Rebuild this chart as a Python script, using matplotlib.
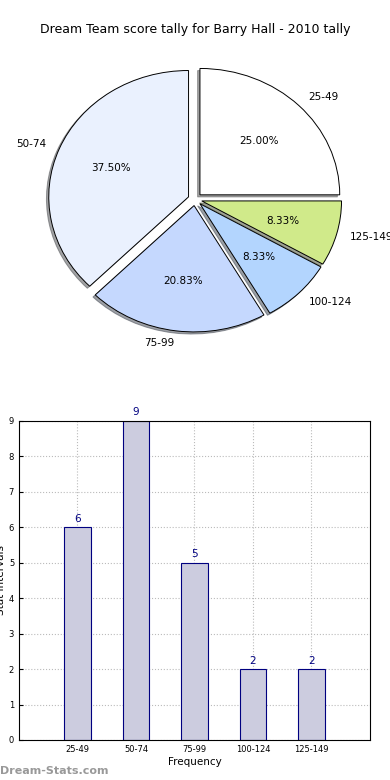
import numpy as np
import matplotlib.pyplot as plt

# score ranges and how many games fell into each
categories = ['25-49', '50-74', '75-99', '100-124', '125-149']
counts = [6, 9, 5, 2, 2]
pie_colors = ['#ffffff', '#eaf1fe', '#c5d8fe', '#b3d5fe', '#d0ea8a']
explode = [0.05, 0.05, 0.05, 0.05, 0.05]

fig = plt.figure(figsize=(3.9, 7.8), dpi=100)

# pie on top (old style: not forced round)
ax1 = fig.add_axes([0.052, 0.542, 0.896, 0.405])
ax1.pie(counts, labels=categories, colors=pie_colors, explode=explode,
        autopct='%.2f%%', shadow={'ox': -0.012, 'oy': -0.012}, startangle=0,
        wedgeprops={'edgecolor': 'black', 'linewidth': 0.7},
        textprops={'fontsize': 7.5})
ax1.set_aspect('auto')
fig.text(0.5, 1 - 30 / 780, 'Dream Team score tally for Barry Hall - 2010 tally',
         ha='center', va='center', fontsize=9)

# bar chart below
ax2 = fig.add_axes([0.0487, 0.0513, 0.9, 0.409])
x = np.arange(len(categories))
bars = ax2.bar(x, counts, width=0.45, color='#ccccdf', edgecolor='navy', linewidth=0.8)
for xi, c in zip(x, counts):
    ax2.text(xi, c + 0.1, str(c), ha='center', va='bottom', color='navy', fontsize=7.5)
ax2.set_xlim(-1, 5)
ax2.set_ylim(0, 9)
ax2.set_xticks(x)
ax2.set_xticklabels(categories)
ax2.set_yticks(range(10))
ax2.tick_params(labelsize=6, direction='in', length=3)
ax2.grid(True, linestyle=':', color='#bbbbbb', linewidth=0.8)
ax2.set_axisbelow(True)
ax2.set_xlabel('Frequency', fontsize=7.5, labelpad=2)
ax2.set_ylabel('Stat Intervals', fontsize=7.5, labelpad=2)

fig.text(0.0, 1 - 771 / 780, 'Dream-Stats.com', color='#999999', fontsize=8,
         fontweight='bold', ha='left', va='center')

plt.savefig('out.png', dpi=100)
